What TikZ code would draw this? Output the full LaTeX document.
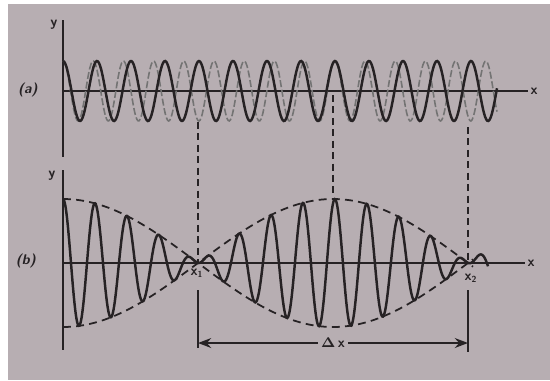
\documentclass[tikz,border=0pt]{standalone}
\usepackage{amsmath,amssymb}
\usetikzlibrary{arrows.meta}
\definecolor{paper}{RGB}{183,174,178}
\definecolor{ink}{RGB}{38,34,36}

\begin{document}
\begin{tikzpicture}[>=Stealth,x=0.02cm,y=0.02cm,
  axis/.style={ink,line width=1pt},
  wave/.style={ink,line width=1.4pt,smooth},
  wavetwo/.style={black!55,line width=0.9pt,dash pattern=on 4pt off 1.5pt,smooth},
  env/.style={ink,line width=1pt,dash pattern=on 4.5pt off 3pt},
  guide/.style={ink,line width=0.9pt,dash pattern=on 4pt off 2.5pt},
  lbl/.style={ink,font=\footnotesize\sffamily\bfseries,inner sep=1pt}]
  \fill[white] (0,0) rectangle (550,380);
  \fill[paper] (8,0) rectangle (550,376);
  \useasboundingbox (0,0) rectangle (550,380);
  % (a)
  \draw[axis] (63,360) -- (63,223);
  \draw[axis] (63,289) -- (528,289) node[right,lbl] (xa) {x};
  \node[lbl] (ya) at (54,355) {y};
  \node[lbl] (la) at (28,290) {\textit{(a)}};
  \draw[wavetwo] plot[domain=63:497,samples=400] (\x,{289+30*cos((\x-63)*11.9205)});
  \draw[wave] plot[domain=63:497,samples=400] (\x,{289+30*cos((\x-63)*10.5882)});
  % (b)
  \draw[axis] (63,210) -- (63,30);
  \draw[axis] (63,117) -- (525,117) node[right,lbl] (xb) {x};
  \node[lbl] (yb) at (52,204) {y};
  \node[lbl] (lb) at (26,119) {\textit{(b)}};
  \draw[env] plot[domain=63:473,samples=120,smooth] (\x,{117+64*cos((\x-63)*0.66667)});
  \draw[env] plot[domain=63:473,samples=120,smooth] (\x,{117-64*cos((\x-63)*0.66667)});
  \draw[wave] plot[domain=63:488,samples=600]
    (\x,{117+32*(cos((\x-63)*10.5882)+cos((\x-63)*11.9205))});
  \node[lbl] (x1) at (197,107) {x\textsubscript{\tiny 1}};
  \node[lbl] (x2) at (471,102) {x\textsubscript{\tiny 2}};
  % guide lines
  \coordinate (g1a) at (198,258);
  \coordinate (g1b) at (198,117);
  \coordinate (g1c) at (198,90);
  \coordinate (g1d) at (198,32);
  \coordinate (gma) at (333,285);
  \coordinate (gmb) at (333,180);
  \coordinate (g2a) at (468,253);
  \coordinate (g2b) at (468,117);
  \coordinate (g2c) at (468,90);
  \coordinate (g2d) at (468,28);
  \draw[guide] (g1a) -- (g1b);
  \draw[guide] (gma) -- (gmb);
  \draw[guide] (g2a) -- (g2b);
  \draw[axis] (g1c) -- (g1d);
  \draw[axis] (g2c) -- (g2d);
  \coordinate (d1) at (198,37);
  \coordinate (d2) at (468,37);
  \draw[axis,<->] (d1) -- node[lbl,fill=paper,inner sep=2pt] (dx) {$\boldsymbol{\Delta}$\,x} (d2);
\end{tikzpicture}
\end{document}
